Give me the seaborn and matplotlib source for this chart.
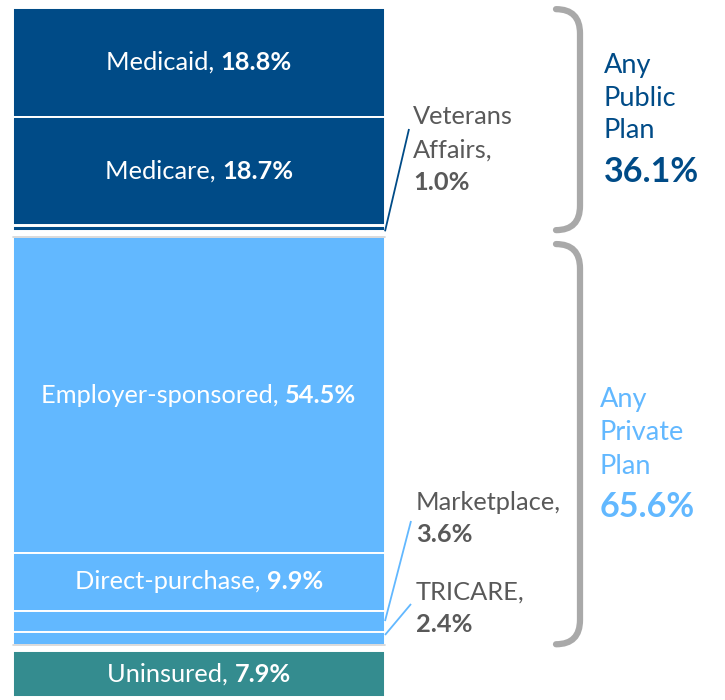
import matplotlib.pyplot as plt
import seaborn as sns
from matplotlib.path import Path
from matplotlib.patches import PathPatch

# data
categories = ["Medicaid", "Medicare", "Veterans Affairs", "Employer-sponsored",
              "Direct-purchase", "Marketplace", "TRICARE", "Uninsured"]
shares = [18.8, 18.7, 1.0, 54.5, 9.9, 3.6, 2.4, 7.9]
groups = ["public", "public", "public", "private", "private", "private", "private", "uninsured"]
label_inside = [True, True, False, True, True, False, False, True]
group_order = ["public", "private", "uninsured"]
group_totals = {"public": 36.1, "private": 65.6}
group_titles = {"public": ["Any", "Public", "Plan"], "private": ["Any", "Private", "Plan"]}

colors = {"public": "#004b87", "private": "#62b8ff", "uninsured": "#348c8f"}
gray_txt = "#595959"
brace_gray = "#a9a9a9"

sns.set_theme(style="white")
plt.rcParams['font.family'] = ['Lato', 'DejaVu Sans']

fig = plt.figure(figsize=(7.25, 7.0), dpi=100)
ax = fig.add_axes([0, 0, 1, 1])
ax.axis("off")

S = 5.8  # px per percentage point
GAP = 1.0
TOP = 8
ax.set_xlim(0, 725)
ax.set_ylim((700 - TOP) / S, -TOP / S)


def py(p):
    # pixel row -> data y
    return (p - TOP) / S


# stack the segments, with a small gap between groups
bottoms = []
y = 0.0
prev = None
for val, g in zip(shares, groups):
    if prev is not None and g != prev:
        y += GAP
    bottoms.append(y)
    y += val
    prev = g

bar_x, bar_w = 199, 372
for cat, val, g, b in zip(categories, shares, groups, bottoms):
    ax.bar(bar_x, val, width=bar_w, bottom=b, color=colors[g],
           edgecolor="white", linewidth=1.4)

# group extents
ext = {}
for g in group_order:
    idx = [i for i, gg in enumerate(groups) if gg == g]
    ext[g] = (bottoms[idx[0]], bottoms[idx[-1]] + shares[idx[-1]])

# thin gray rules around the private block
for yy in ext["private"]:
    ax.plot([13, 385], [yy, yy], color="#d4d4d4", lw=1.2, zorder=3)

renderer = fig.canvas.get_renderer()
FS = 18.3


def two_part(cx, cy, reg, bold, color, size):
    t1 = ax.text(0, cy, reg, color=color, fontsize=size, va="center", ha="left")
    t2 = ax.text(0, cy, bold, color=color, fontsize=size, va="center", ha="left",
                 fontweight="bold")
    w1 = t1.get_window_extent(renderer).width
    w2 = t2.get_window_extent(renderer).width
    left = cx - (w1 + w2) / 2
    t1.set_x(left)
    t2.set_x(left + w1)


for cat, val, b, inside in zip(categories, shares, bottoms, label_inside):
    if inside:
        two_part(bar_x, b + val / 2, cat + ", ", f"{val:.1f}%", "white", FS)

# outside labels with leader lines
outside = {
    "Veterans Affairs": dict(x=413, lines=["Veterans", "Affairs,"], y0=117,
                             lp=(409, 129), at="bottom", color=colors["public"]),
    "Marketplace": dict(x=416, lines=["Marketplace,"], y0=502,
                        lp=(411, 521), at="mid", color=colors["private"]),
    "TRICARE": dict(x=416, lines=["TRICARE,"], y0=592,
                    lp=(411, 604), at="top", color=colors["private"]),
}
LH = 33
for cat, o in outside.items():
    i = categories.index(cat)
    for k, line in enumerate(o["lines"]):
        ax.text(o["x"], py(o["y0"] + k * LH), line, color=gray_txt, fontsize=FS,
                va="center", ha="left")
    ax.text(o["x"], py(o["y0"] + len(o["lines"]) * LH), f"{shares[i]:.1f}%",
            color=gray_txt, fontsize=FS, va="center", ha="left", fontweight="bold")
    b, v = bottoms[i], shares[i]
    ty = {"bottom": b + v, "mid": b + v / 2, "top": b + v * 0.25}[o["at"]]
    ax.plot([o["lp"][0], 385], [py(o["lp"][1]), ty], color=o["color"], lw=1.3,
            solid_capstyle="butt", zorder=4)


# braces
def brace(y_top, y_bot, x0=556, x1=580, r=4.2):
    verts = [(x0, y_top), (x1, y_top), (x1, y_top + r),
             (x1, y_bot - r), (x1, y_bot), (x0, y_bot)]
    codes = [Path.MOVETO, Path.CURVE3, Path.CURVE3, Path.LINETO, Path.CURVE3, Path.CURVE3]
    ax.add_patch(PathPatch(Path(verts, codes), facecolor="none", edgecolor=brace_gray,
                           lw=4.5, capstyle="round"))


brace(ext["public"][0] + 0.2, ext["public"][1] - 0.2)
brace(ext["private"][0] + 1.2, ext["private"][1] - 0.2)

title_pos = {"public": (604, 65), "private": (600, 400)}
for g in ["public", "private"]:
    x, y0 = title_pos[g]
    for k, w in enumerate(group_titles[g]):
        ax.text(x, py(y0 + k * 33), w, color=colors[g], fontsize=19.5,
                va="center", ha="left")
    ax.text(x, py(y0 + 3 * 33 + 8), f"{group_totals[g]:.1f}%", color=colors[g],
            fontsize=24.5, va="center", ha="left", fontweight="bold")

fig.savefig("out.png", dpi=100)
